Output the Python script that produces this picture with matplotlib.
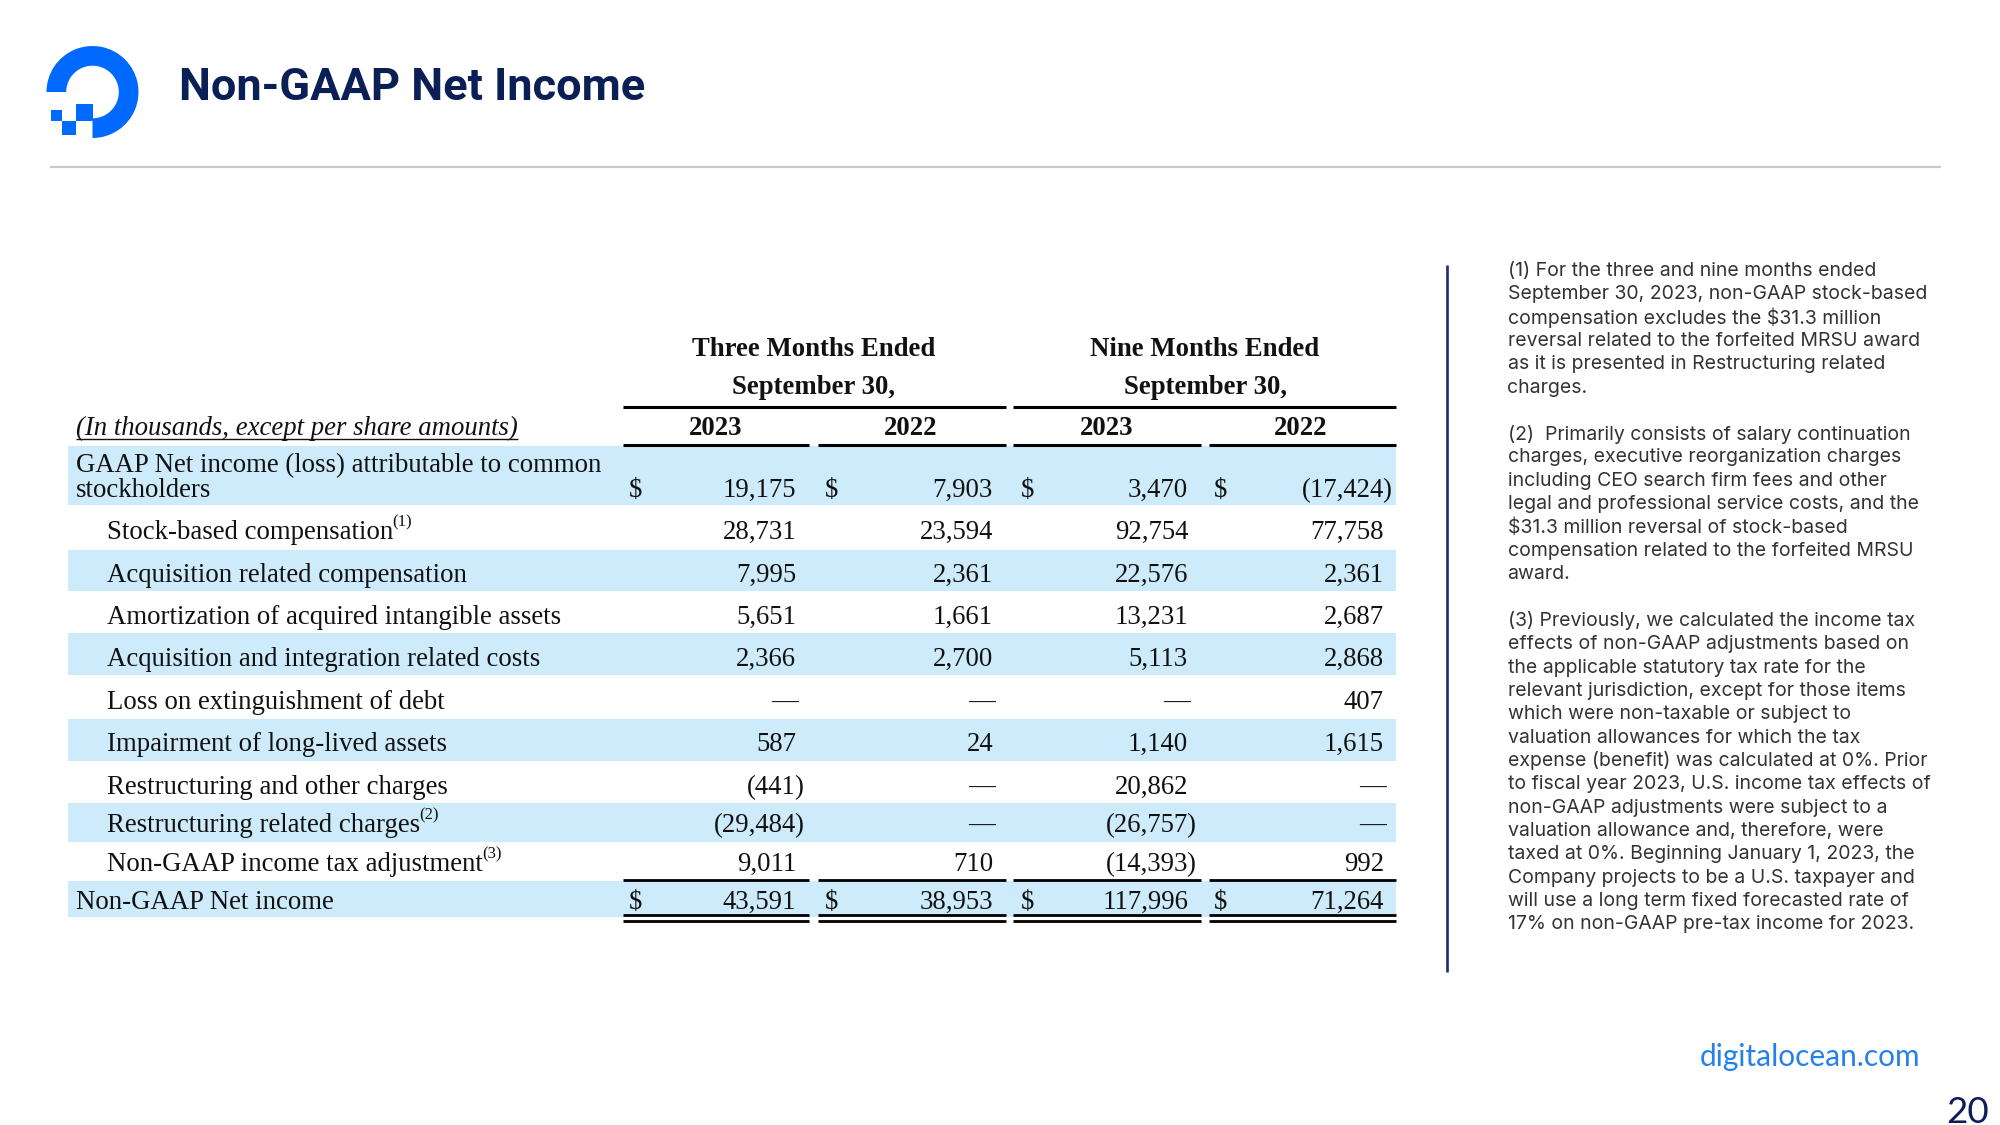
import matplotlib
matplotlib.use("Agg")
import matplotlib.pyplot as plt
from matplotlib.patches import Wedge, Rectangle

plt.rcParams['text.parse_math'] = False

# ---------------- data ----------------
title = "Non-GAAP Net Income"
period_headers = ["Three Months Ended", "Nine Months Ended"]
period_sub = "September 30,"
years = ["2023", "2022", "2023", "2022"]
units_label = "(In thousands, except per share amounts)"
row_labels = [
    "GAAP Net income (loss) attributable to common\nstockholders",
    "Stock-based compensation",
    "Acquisition related compensation",
    "Amortization of acquired intangible assets",
    "Acquisition and integration related costs",
    "Loss on extinguishment of debt",
    "Impairment of long-lived assets",
    "Restructuring and other charges",
    "Restructuring related charges",
    "Non-GAAP income tax adjustment",
    "Non-GAAP Net income",
]
row_notes = ["", "(1)", "", "", "", "", "", "", "(2)", "(3)", ""]
three_2023 = [19175, 28731, 7995, 5651, 2366, None, 587, -441, -29484, 9011, 43591]
three_2022 = [7903, 23594, 2361, 1661, 2700, None, 24, None, None, 710, 38953]
nine_2023 = [3470, 92754, 22576, 13231, 5113, None, 1140, 20862, -26757, -14393, 117996]
nine_2022 = [-17424, 77758, 2361, 2687, 2868, 407, 1615, None, None, 992, 71264]

footnote_1 = [
    "(1) For the three and nine months ended",
    "September 30, 2023, non-GAAP stock-based",
    "compensation excludes the $31.3 million",
    "reversal related to the forfeited MRSU award",
    "as it is presented in Restructuring related",
    "charges.",
]
footnote_2 = [
    "(2)  Primarily consists of salary continuation",
    "charges, executive reorganization charges",
    "including CEO search firm fees and other",
    "legal and professional service costs, and the",
    "$31.3 million reversal of stock-based",
    "compensation related to the forfeited MRSU",
    "award.",
]
footnote_3 = [
    "(3) Previously, we calculated the income tax",
    "effects of non-GAAP adjustments based on",
    "the applicable statutory tax rate for the",
    "relevant jurisdiction, except for those items",
    "which were non-taxable or subject to",
    "valuation allowances for which the tax",
    "expense (benefit) was calculated at 0%. Prior",
    "to fiscal year 2023, U.S. income tax effects of",
    "non-GAAP adjustments were subject to a",
    "valuation allowance and, therefore, were",
    "taxed at 0%. Beginning January 1, 2023, the",
    "Company projects to be a U.S. taxpayer and",
    "will use a long term fixed forecasted rate of",
    "17% on non-GAAP pre-tax income for 2023.",
]
site = "digitalocean.com"
page = "20"

# ---------------- styles / layout ----------------
W, H = 2000, 1125
BLUE = "#0069FF"
NAVY = "#0B1F57"
BAND = "#CDEBFA"
INK = "#111111"
SERIF = "Liberation Serif"
FS = 19.3

fig = plt.figure(figsize=(W / 100, H / 100), dpi=100)
ax = fig.add_axes([0, 0, 1, 1])
ax.set_xlim(0, W)
ax.set_ylim(H, 0)
ax.axis("off")

# logo
cx, cy, R, r_in = 92.5, 92.0, 46.0, 26.3
ax.add_patch(Wedge((cx, cy), R, 180, 450, width=R - r_in, facecolor=BLUE, edgecolor="none"))
ax.add_patch(Rectangle((76.0, 103.5), 17.3, 17.0, facecolor=BLUE, edgecolor="none"))
ax.add_patch(Rectangle((62.3, 120.5), 13.7, 14.0, facecolor=BLUE, edgecolor="none"))
ax.add_patch(Rectangle((50.7, 109.5), 11.6, 11.2, facecolor=BLUE, edgecolor="none"))

# title
ax.text(179, 88, title, fontsize=32.5, fontweight="bold", family="Roboto",
        color=NAVY, ha="left", va="center")
# rule
ax.plot([50, 1941], [167, 167], color="#C9C9C9", lw=1.6, solid_capstyle="butt")

# ---------------- table ----------------
row_top = [446, 505, 550, 591, 633, 675, 719, 761, 803, 842, 881]
row_bot = [505, 550, 591, 633, 675, 719, 761, 803, 842, 881, 917]
row_y = [488, 530, 573, 615, 657, 700, 742, 785, 823, 862, 900]
band_x0, band_x1 = 68, 1396
BASE = 9  # baseline offset from visual centre

for i in range(len(row_labels)):
    if i % 2 == 0:
        ax.add_patch(Rectangle((band_x0, row_top[i]), band_x1 - band_x0,
                               row_bot[i] - row_top[i], facecolor=BAND,
                               edgecolor="none", zorder=0))

# headers
ax.text(814, 347 + BASE, period_headers[0], fontsize=FS, family=SERIF,
        fontweight="bold", color=INK, ha="center", va="baseline")
ax.text(1205, 347 + BASE, period_headers[1], fontsize=FS, family=SERIF,
        fontweight="bold", color=INK, ha="center", va="baseline")
for xc in (814, 1205):
    ax.text(xc, 385 + BASE, period_sub, fontsize=FS, family=SERIF,
            fontweight="bold", color=INK, ha="center", va="baseline")
for xc, yr in zip([716, 911, 1107, 1301], years):
    ax.text(xc, 426 + BASE, yr, fontsize=FS, family=SERIF,
            fontweight="bold", color=INK, ha="center", va="baseline")

units = ax.text(76, 435, units_label, fontsize=FS, family=SERIF,
                style="italic", color=INK, ha="left", va="baseline")

seg_pairs = [(623, 1006), (1013, 1396)]
seg_cols = [(623, 809), (818, 1006), (1013, 1201), (1209, 1396)]
for a, b in seg_pairs:
    ax.plot([a, b], [407, 407], color="black", lw=2.2, solid_capstyle="butt")
for a, b in seg_cols:
    ax.plot([a, b], [445, 445], color="black", lw=2.2, solid_capstyle="butt")
    ax.plot([a, b], [880, 880], color="black", lw=2.0, solid_capstyle="butt")
    ax.plot([a, b], [914.5, 914.5], color="black", lw=2.0, solid_capstyle="butt")
    ax.plot([a, b], [920.5, 920.5], color="black", lw=2.0, solid_capstyle="butt")

# labels
label_objs = []
for i, lab in enumerate(row_labels):
    x = 76 if i in (0, len(row_labels) - 1) else 107
    if "\n" in lab:
        l1, l2 = lab.split("\n")
        ax.text(x, 463 + BASE, l1, fontsize=FS, family=SERIF, color=INK,
                ha="left", va="baseline")
        t = ax.text(x, 488 + BASE, l2, fontsize=FS, family=SERIF, color=INK,
                    ha="left", va="baseline")
    else:
        t = ax.text(x, row_y[i] + BASE, lab, fontsize=FS, family=SERIF,
                    color=INK, ha="left", va="baseline")
    label_objs.append(t)

# values
dollar_x = [636, 832, 1028, 1221]
right_x = [796, 993, 1188, 1384]
cols = [three_2023, three_2022, nine_2023, nine_2022]
for c, series in enumerate(cols):
    for i, v in enumerate(series):
        yb = row_y[i] + BASE
        if i in (0, len(series) - 1):
            ax.text(dollar_x[c], yb, "$", fontsize=FS, family=SERIF, color=INK,
                    ha="center", va="baseline")
        if v is None:
            ax.text(right_x[c] + 2, yb, "\u2014", fontsize=FS, family=SERIF,
                    color=INK, ha="right", va="baseline")
        elif v < 0:
            ax.text(right_x[c], yb, "(" + f"{abs(v):,}", fontsize=FS, family=SERIF,
                    color=INK, ha="right", va="baseline")
            ax.text(right_x[c] - 1.5, yb, ")", fontsize=FS, family=SERIF, color=INK,
                    ha="left", va="baseline")
        else:
            ax.text(right_x[c], yb, f"{v:,}", fontsize=FS, family=SERIF,
                    color=INK, ha="right", va="baseline")

# right divider
ax.plot([1446.7, 1446.7], [265, 972], color="#1E2D6B", lw=1.9, solid_capstyle="butt")

# footnotes
FN_FONT = "Inter"
FN_FS = 14.0
FN_COL = "#333333"
LS = 23.33
for start, lines in ((270, footnote_1), (433, footnote_2), (620, footnote_3)):
    for k, line in enumerate(lines):
        ax.text(1507.5, start + k * LS + 1, line, fontsize=FN_FS, family=FN_FONT,
                color=FN_COL, ha="left", va="center")

# footer
ax.text(1920, 1057, site, fontsize=21.5, family="Lato", color="#2680EB",
        ha="right", va="center")
ax.text(1946, 1096, page, fontsize=26.5, family="Lato", color=NAVY,
        ha="left", va="top")

# superscripts and underline need measured extents
fig.canvas.draw()
inv = ax.transData.inverted()
for i, t in enumerate(label_objs):
    note = row_notes[i]
    if note:
        bb = t.get_window_extent()
        x1 = inv.transform((bb.x1, bb.y1))[0]
        ax.text(x1 - 1.0, row_y[i] - 8, note, fontsize=12, family=SERIF,
                color=INK, ha="left", va="center")
bb = units.get_window_extent()
ux0 = inv.transform((bb.x0, bb.y0))[0]
ux1 = inv.transform((bb.x1, bb.y0))[0]
ax.plot([ux0, ux1], [438.5, 438.5], color=INK, lw=1.0, solid_capstyle="butt")

fig.savefig("out.png", dpi=100)
